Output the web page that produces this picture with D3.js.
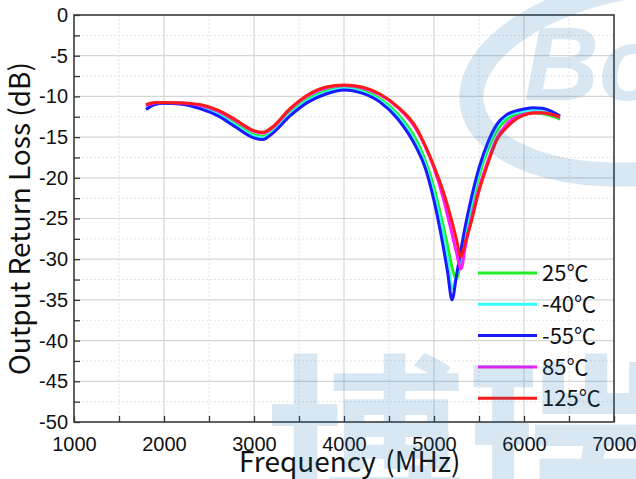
<!DOCTYPE html>
<html>
<head>
<meta charset="utf-8">
<script src="https://cdn.jsdelivr.net/npm/d3@7/dist/d3.min.js"></script>
<style>
  html, body { margin: 0; padding: 0; background: #ffffff; }
  svg { display: block; }
</style>
</head>
<body>
<svg id="chart" width="636" height="479"></svg>
<script>
// Output return loss versus frequency at five temperatures
const frequency = [1800, 1900, 2000, 2200, 2400, 2600, 2800, 3000, 3100, 3200, 3400, 3600, 3800, 4000,
  4200, 4400, 4600, 4800, 4900, 5000, 5100, 5150, 5200, 5250, 5300, 5350, 5400, 5500, 5600,
  5700, 5800, 5900, 6000, 6100, 6200, 6300, 6400];

const loss25 = [-11.3, -10.9, -10.8, -10.85, -11.3, -12.1, -13.4, -14.7, -14.9, -14.3, -12.0, -10.3, -9.3, -8.9,
  -9.3, -10.3, -12.2, -15.3, -17.8, -21.2, -25.8, -28.3, -31.0, -32.4, -30.0, -27.0, -24.5, -19.8, -16.5,
  -14.2, -12.9, -12.3, -12.1, -12.0, -12.1, -12.4, -12.8];

const lossM40 = [-11.4, -10.95, -10.8, -10.9, -11.4, -12.2, -13.6, -14.9, -15.1, -14.45, -12.2, -10.5, -9.5, -9.05,
  -9.45, -10.5, -12.5, -15.8, -18.3, -22.0, -27.0, -30.0, -33.6, -32.0, -29.3, -26.4, -23.8, -19.2, -16.0,
  -13.7, -12.5, -12.0, -11.8, -11.6, -11.65, -12.0, -12.5];

const lossM55 = [-11.6, -11.0, -10.85, -10.95, -11.5, -12.4, -13.8, -15.1, -15.3, -14.6, -12.4, -10.7, -9.7, -9.2,
  -9.6, -10.7, -12.8, -16.2, -18.7, -22.8, -28.3, -31.5, -35.0, -32.0, -28.8, -25.8, -23.2, -18.8, -15.6,
  -13.4, -12.3, -11.8, -11.55, -11.4, -11.45, -11.8, -12.4];

const loss85 = [-11.1, -10.8, -10.75, -10.8, -11.1, -11.8, -13.0, -14.3, -14.5, -13.9, -11.6, -9.9, -8.95, -8.65,
  -8.95, -9.8, -11.4, -14.0, -16.1, -18.8, -22.4, -24.6, -26.9, -29.2, -31.2, -28.3, -25.8, -21.3, -17.9,
  -15.1, -13.5, -12.6, -12.2, -12.0, -12.0, -12.2, -12.6];

const loss125 = [-11.0, -10.75, -10.75, -10.8, -11.0, -11.7, -12.9, -14.2, -14.4, -13.8, -11.5, -9.8, -8.85, -8.6,
  -8.85, -9.7, -11.3, -13.8, -16.0, -18.6, -21.6, -23.4, -25.4, -27.6, -29.7, -27.8, -26.0, -21.6, -18.2,
  -15.3, -13.9, -12.9, -12.3, -12.05, -12.0, -12.2, -12.5];

const seriesNames = ["25℃", "-40℃", "-55℃", "85℃", "125℃"];
const seriesValues = [loss25, lossM40, lossM55, loss85, loss125];
const seriesColors = ["#22ee22", "#33ffff", "#1a1aff", "#ff1aff", "#ff1a1a"];

const xTicks = [1000, 2000, 3000, 4000, 5000, 6000, 7000];
const yTicks = [0, -5, -10, -15, -20, -25, -30, -35, -40, -45, -50];

const svg = d3.select("#chart");
const plot = { left: 74, right: 614, top: 15, bottom: 422 };

const x = d3.scaleLinear().domain([1000, 7000]).range([plot.left, plot.right]);
const y = d3.scaleLinear().domain([-50, 0]).range([plot.bottom, plot.top]);

// grid: solid at labelled values, dotted halfway between
const minorX = d3.range(1500, 7000, 1000);
const minorY = d3.range(-47.5, 0, 5);
const grid = svg.append("g");
grid.selectAll(".gx").data(minorX).join("line")
  .attr("x1", d => x(d)).attr("x2", d => x(d)).attr("y1", plot.top).attr("y2", plot.bottom)
  .attr("stroke", "#e4e4e4").attr("stroke-width", 1).attr("stroke-dasharray", "2,2");
grid.selectAll(".gy").data(minorY).join("line")
  .attr("x1", plot.left).attr("x2", plot.right).attr("y1", d => y(d)).attr("y2", d => y(d))
  .attr("stroke", "#e4e4e4").attr("stroke-width", 1).attr("stroke-dasharray", "2,2");
grid.selectAll(".mx").data(xTicks.slice(1, -1)).join("line")
  .attr("x1", d => x(d)).attr("x2", d => x(d)).attr("y1", plot.top).attr("y2", plot.bottom)
  .attr("stroke", "#d6d6d6").attr("stroke-width", 1.2);
grid.selectAll(".my").data(yTicks.slice(1, -1)).join("line")
  .attr("x1", plot.left).attr("x2", plot.right).attr("y1", d => y(d)).attr("y2", d => y(d))
  .attr("stroke", "#d6d6d6").attr("stroke-width", 1.2);

// axes with inward ticks at every half step; only whole steps are labelled
const tickFont = "'Liberation Sans', Arial, sans-serif";
const xAxis = svg.append("g").attr("transform", `translate(0,${plot.bottom})`)
  .call(d3.axisBottom(x).tickValues(d3.range(1000, 7001, 500)).tickSize(-6)
    .tickFormat(d => xTicks.includes(d) ? d : ""));
xAxis.selectAll("text").attr("y", 15).attr("dy", "0.71em")
  .style("font-family", tickFont).style("font-size", "20px").attr("fill", "#111");
const yAxis = svg.append("g").attr("transform", `translate(${plot.left},0)`)
  .call(d3.axisLeft(y).tickValues(d3.range(-50, 0.1, 2.5)).tickSize(-6)
    .tickFormat(d => yTicks.includes(d) ? d : ""));
yAxis.selectAll("text").attr("x", -6)
  .style("font-family", tickFont).style("font-size", "20px").attr("fill", "#111");
[xAxis, yAxis].forEach(a => {
  a.select(".domain").remove();
  a.selectAll(".tick line").attr("stroke", "#333").attr("stroke-width", 1.3);
  a.selectAll(".tick text").filter(function () { return this.textContent === ""; }).remove();
});

// frame
svg.append("rect")
  .attr("x", plot.left).attr("y", plot.top)
  .attr("width", plot.right - plot.left).attr("height", plot.bottom - plot.top)
  .attr("fill", "none").attr("stroke", "#3a3a3a").attr("stroke-width", 1.6);

// curves
const line = d3.line().x(d => x(d[0])).y(d => y(d[1])).curve(d3.curveMonotoneX);
svg.append("g").selectAll("path").data(seriesValues).join("path")
  .attr("d", vals => line(frequency.map((f, i) => [f, vals[i]])))
  .attr("fill", "none")
  .attr("stroke", (d, i) => seriesColors[i])
  .attr("stroke-width", 3)
  .attr("stroke-linejoin", "round");

// legend
const cjkFont = "'Noto Sans CJK SC', 'Noto Sans', sans-serif";
const legend = svg.append("g");
seriesNames.forEach((name, i) => {
  const ly = 273 + i * 31.3;
  legend.append("line").attr("x1", 478).attr("x2", 537).attr("y1", ly).attr("y2", ly)
    .attr("stroke", seriesColors[i]).attr("stroke-width", 3);
  legend.append("text").attr("x", 542).attr("y", ly).attr("dy", "0.36em")
    .style("font-family", cjkFont).style("font-size", "22px").attr("fill", "#111")
    .text(name);
});

// axis titles
svg.append("text")
  .attr("transform", `translate(30,${(plot.top + plot.bottom) / 2}) rotate(-90)`)
  .attr("text-anchor", "middle")
  .style("font-family", cjkFont).style("font-size", "28px").attr("fill", "#111")
  .text("Output Return Loss (dB)");
svg.append("text")
  .attr("x", 239).attr("y", 472)
  .style("font-family", cjkFont).style("font-size", "28px").style("word-spacing", "3px")
  .attr("fill", "#111")
  .text("Frequency (MHz)");

// company watermark laid over the chart
const mark = svg.append("g").attr("fill", "rgb(20,110,180)").attr("opacity", 0.16)
  .style("pointer-events", "none");
mark.append("ellipse")
  .attr("cx", 655).attr("cy", 78).attr("rx", 185).attr("ry", 94)
  .attr("transform", "rotate(-8,655,78)")
  .attr("fill", "none").attr("stroke", "rgb(20,110,180)").attr("stroke-width", 24);
mark.append("text").attr("x", 524).attr("y", 100)
  .style("font-family", "'Liberation Sans', Arial, sans-serif")
  .style("font-size", "104px").style("font-weight", "bold").style("font-style", "italic")
  .text("Bo");
mark.append("text").attr("x", 266).attr("y", 524)
  .style("font-family", "'Noto Sans CJK SC', sans-serif")
  .style("font-size", "200px").style("font-weight", "bold")
  .text("博瑞");
</script>
</body>
</html>
